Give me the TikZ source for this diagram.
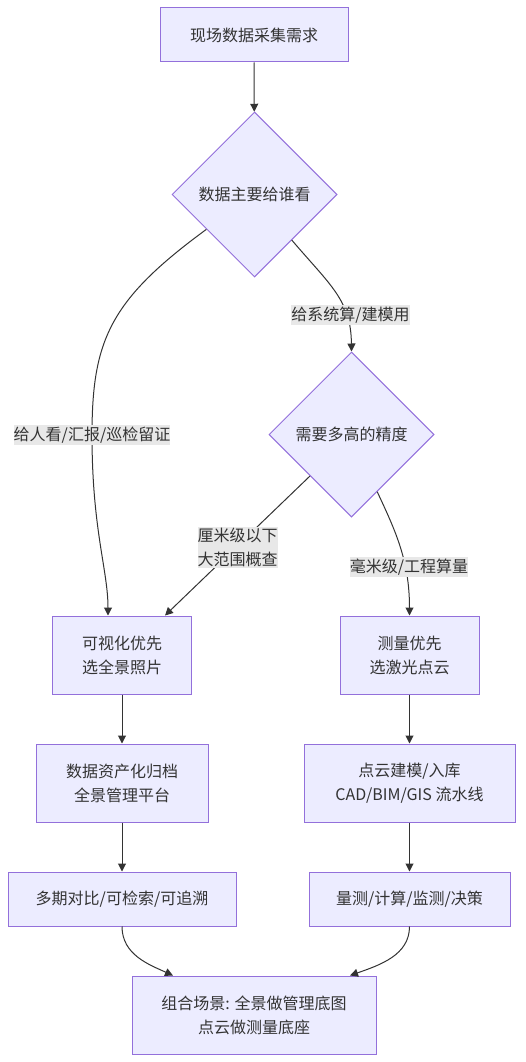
\documentclass[tikz,border=0pt]{standalone}
\usepackage{fontspec}
\setmainfont{Noto Sans CJK SC}
\usetikzlibrary{shapes.geometric,arrows.meta,calc}
\definecolor{nodefill}{HTML}{ECECFF}
\definecolor{nodeedge}{HTML}{9370DB}
\definecolor{linecol}{HTML}{333333}
\definecolor{lblbg}{HTML}{E8E8E8}
\definecolor{txt}{HTML}{333333}
\begin{document}
\begin{tikzpicture}[x=1pt,y=-1pt,
  every node/.style={font=\fontsize{16pt}{24pt}\selectfont, text=txt},
  flowbox/.style={draw=nodeedge, fill=nodefill, line width=1pt, inner sep=0pt, align=center},
  decision/.style={diamond, aspect=1, draw=nodeedge, fill=nodefill, line width=1pt, inner sep=0pt, minimum width=165pt, minimum height=165pt, align=center},
  conn/.style={draw=linecol, line width=1pt, -{Triangle[length=8pt,width=8pt]}},
  lbl/.style={fill=lblbg, inner xsep=0pt, inner ysep=1.5pt, align=center}]
\useasboundingbox (0,0) rectangle (525,1062);

\node[flowbox, minimum width=188pt, minimum height=54pt] (A) at (254,35) {现场数据采集需求};
\node[decision] (B) at (254.5,194.5) {数据主要给谁看};
\node[decision] (C) at (351.5,434.5) {需要多高的精度};
\node[flowbox, minimum width=139pt, minimum height=78pt] (D) at (122,655) {可视化优先\\选全景照片};
\node[flowbox, minimum width=139pt, minimum height=78pt] (E) at (409.5,655) {测量优先\\选激光点云};
\node[flowbox, minimum width=172pt, minimum height=78pt] (F) at (122,783) {数据资产化归档\\全景管理平台};
\node[flowbox, minimum width=211pt, minimum height=78pt] (G) at (409.5,783) {点云建模/入库\\CAD/BIM/GIS 流水线};
\node[flowbox, minimum width=228pt, minimum height=54pt] (H) at (122,899) {多期对比/可检索/可追溯};
\node[flowbox, minimum width=201pt, minimum height=54pt] (I) at (409.5,899) {量测/计算/监测/决策};
\node[flowbox, minimum width=244pt, minimum height=78pt] (J) at (254,1015) {组合场景: 全景做管理底图\\点云做测量底座};

\draw[conn] (A) -- (B);
\draw[conn] ($(B.west)!0.42!(B.south)$) .. controls (110,300) and (92,340) .. (92,435) .. controls (92,530) and (108,570) .. ([xshift=-14pt]D.north);
\node[lbl] (L1) at (92,435) {给人看/汇报/巡检留证};
\draw[conn] ($(B.east)!0.55!(B.south)$) .. controls (330,285) and (351,300) .. (C.north);
\node[lbl] (L2) at (350.5,315) {给系统算/建模用};
\draw[conn] ($(C.west)!0.5!(C.south)$) -- ([xshift=43pt]D.north);
\node[lbl] (L3) at (237.5,547.5) {厘米级以下\\大范围概查};
\draw[conn] ($(C.east)!0.69!(C.south)$) .. controls (395,530) and (409.5,560) .. (E.north);
\node[lbl] (L4) at (409,567) {毫米级/工程算量};
\draw[conn] (D) -- (F);
\draw[conn] (F) -- (H);
\draw[conn] (E) -- (G);
\draw[conn] (G) -- (I);
\draw[conn] (H.south) .. controls (122,955) and (150,965) .. ([xshift=-81pt]J.north);
\draw[conn] (I.south) .. controls (409.5,955) and (380,965) .. ([xshift=96pt]J.north);
\end{tikzpicture}
\end{document}
